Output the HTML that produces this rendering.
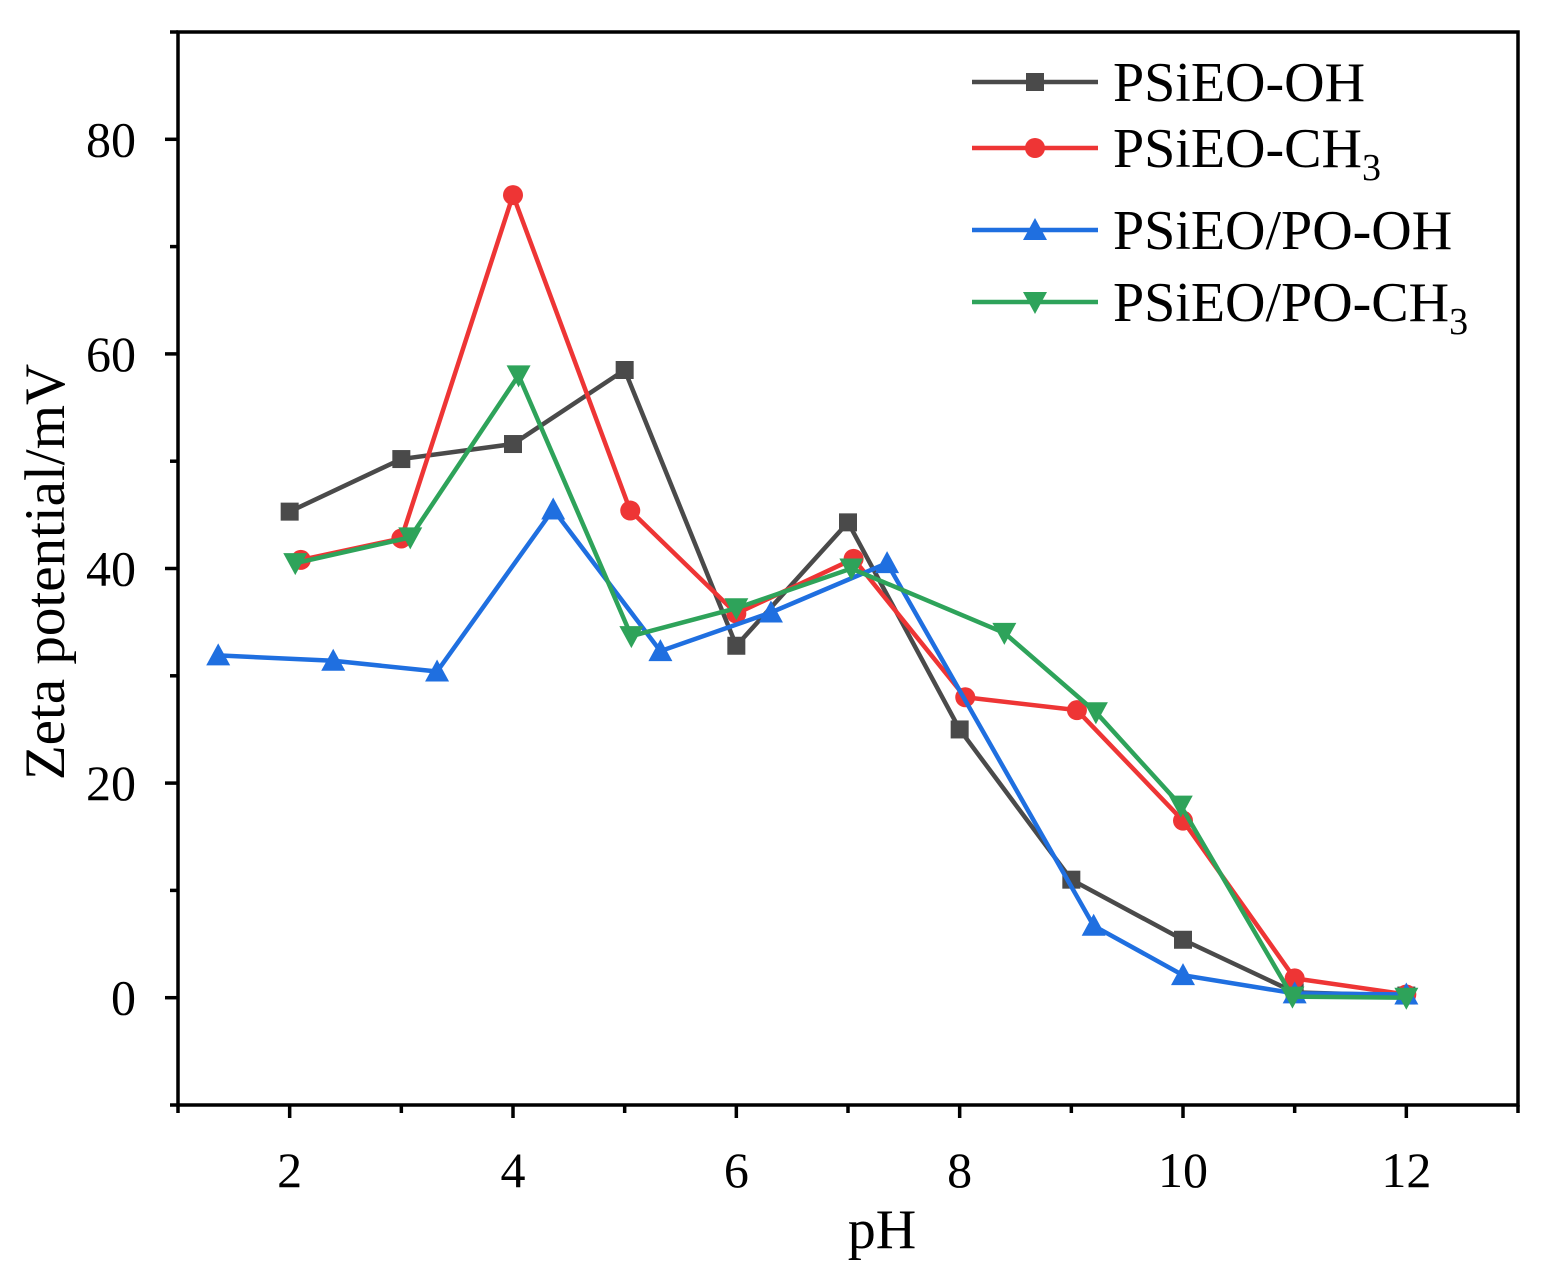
<!DOCTYPE html>
<html><head><meta charset="utf-8"><style>
body{margin:0;background:#fff}
svg{display:block;font-family:"Liberation Serif",serif}
</style></head><body>
<svg id="c" width="1546" height="1277" viewBox="0 0 1546 1277"></svg>
<script>
const xTicks=[2,4,6,8,10,12];
const yTicks=[0,20,40,60,80];
const ohX=[2,3,4,5,6,7,8,9,10,11,12];
const ohY=[45.3,50.2,51.6,58.5,32.8,44.3,25,11,5.4,0.5,0.2];
const ch3X=[2.1,3,4,5.05,6,7.05,8.05,9.05,10,11,12];
const ch3Y=[40.8,42.8,74.8,45.4,35.8,40.9,28,26.8,16.5,1.8,0.3];
const poOhX=[1.36,2.39,3.32,4.36,5.32,6.31,7.35,9.2,10,11,12];
const poOhY=[31.9,31.4,30.4,45.5,32.3,35.9,40.5,6.7,2.1,0.4,0.3];
const poCh3X=[2.05,3.08,4.05,5.06,6,7.03,8.4,9.22,9.98,10.98,12];
const poCh3Y=[40.5,42.9,58,33.7,36.3,40,34,26.6,17.9,0.1,0];
const L=178,R=1518,T=32,B=1105,xmin=1,xmax=13,ymin=-10,ymax=90;
const sx=v=>L+(v-xmin)/(xmax-xmin)*(R-L);
const sy=v=>B-(v-ymin)/(ymax-ymin)*(B-T);
const svg=document.getElementById('c');const NS='http://www.w3.org/2000/svg';
function mk(t,a,p){const e=document.createElementNS(NS,t);for(const k in a)e.setAttribute(k,a[k]);(p||svg).appendChild(e);return e;}
const frame=mk('rect',{x:L,y:T,width:R-L,height:B-T,fill:'none',stroke:'#000','stroke-width':3.5});


for(let v=1;v<=13;v++){const maj=v%2==0;mk('line',{x1:sx(v),x2:sx(v),y1:B,y2:B+(maj?13:8),stroke:'#000','stroke-width':3.5});}
xTicks.forEach(v=>{const t=mk('text',{x:sx(v),y:B+82,'font-size':50,'text-anchor':'middle'});t.textContent=v;

});
for(let v=-10;v<=90;v+=10){const maj=v%20==0&&v>=0&&v<=80;mk('line',{x1:L,x2:L-(maj?13:8),y1:sy(v),y2:sy(v),stroke:'#000','stroke-width':3.5});}
yTicks.forEach(v=>{const t=mk('text',{x:L-42,y:sy(v)+17,'font-size':50,'text-anchor':'end'});t.textContent=v;

});
const xt=mk('text',{x:882,y:1248,'font-size':56,'text-anchor':'middle'});xt.textContent='pH';


const yt=mk('text',{x:0,y:0,'font-size':57,'text-anchor':'middle',transform:'translate(64,572) rotate(-90)'});yt.textContent='Zeta potential/mV';


function marker(g,type,x,y,c){
 if(type=='sq')mk('rect',{x:x-9,y:y-9,width:18,height:18,fill:c},g);
 else if(type=='ci')mk('circle',{cx:x,cy:y,r:10,fill:c},g);
 else if(type=='up')mk('polygon',{points:`${x},${y-12} ${x-12},${y+10} ${x+12},${y+10}`,fill:c},g);
 else mk('polygon',{points:`${x},${y+12} ${x-12},${y-10} ${x+12},${y-10}`,fill:c},g);
}
const series=[
 {n:'series-psieo-oh',xs:ohX,ys:ohY,c:'#4a4a4a',m:'sq',lab:'PSiEO-OH',sub:'',ly:82},
 {n:'series-psieo-ch3',xs:ch3X,ys:ch3Y,c:'#ee3535',m:'ci',lab:'PSiEO-CH',sub:'3',ly:148},
 {n:'series-psieo-po-oh',xs:poOhX,ys:poOhY,c:'#1f6fe0',m:'up',lab:'PSiEO/PO-OH',sub:'',ly:230},
 {n:'series-psieo-po-ch3',xs:poCh3X,ys:poCh3Y,c:'#2ea35a',m:'dn',lab:'PSiEO/PO-CH',sub:'3',ly:302}];
series.forEach(s=>{
 const g=mk('g',{});
 
 
 mk('polyline',{points:s.xs.map((x,i)=>sx(x)+','+sy(s.ys[i])).join(' '),fill:'none',stroke:s.c,'stroke-width':4.5},g);
 s.xs.forEach((x,i)=>marker(g,s.m,sx(x),sy(s.ys[i]),s.c));
 const lg=mk('g',{});
 
 
 mk('line',{x1:972,x2:1098,y1:s.ly,y2:s.ly,stroke:s.c,'stroke-width':4.5},lg);
 marker(lg,s.m,1035,s.ly,s.c);
 const t=mk('text',{x:1113,y:s.ly+19,'font-size':56},lg);t.textContent=s.lab;
 if(s.sub){const ts=mk('tspan',{'font-size':38,dy:13},t);ts.textContent=s.sub;}
});
</script>
</body></html>
